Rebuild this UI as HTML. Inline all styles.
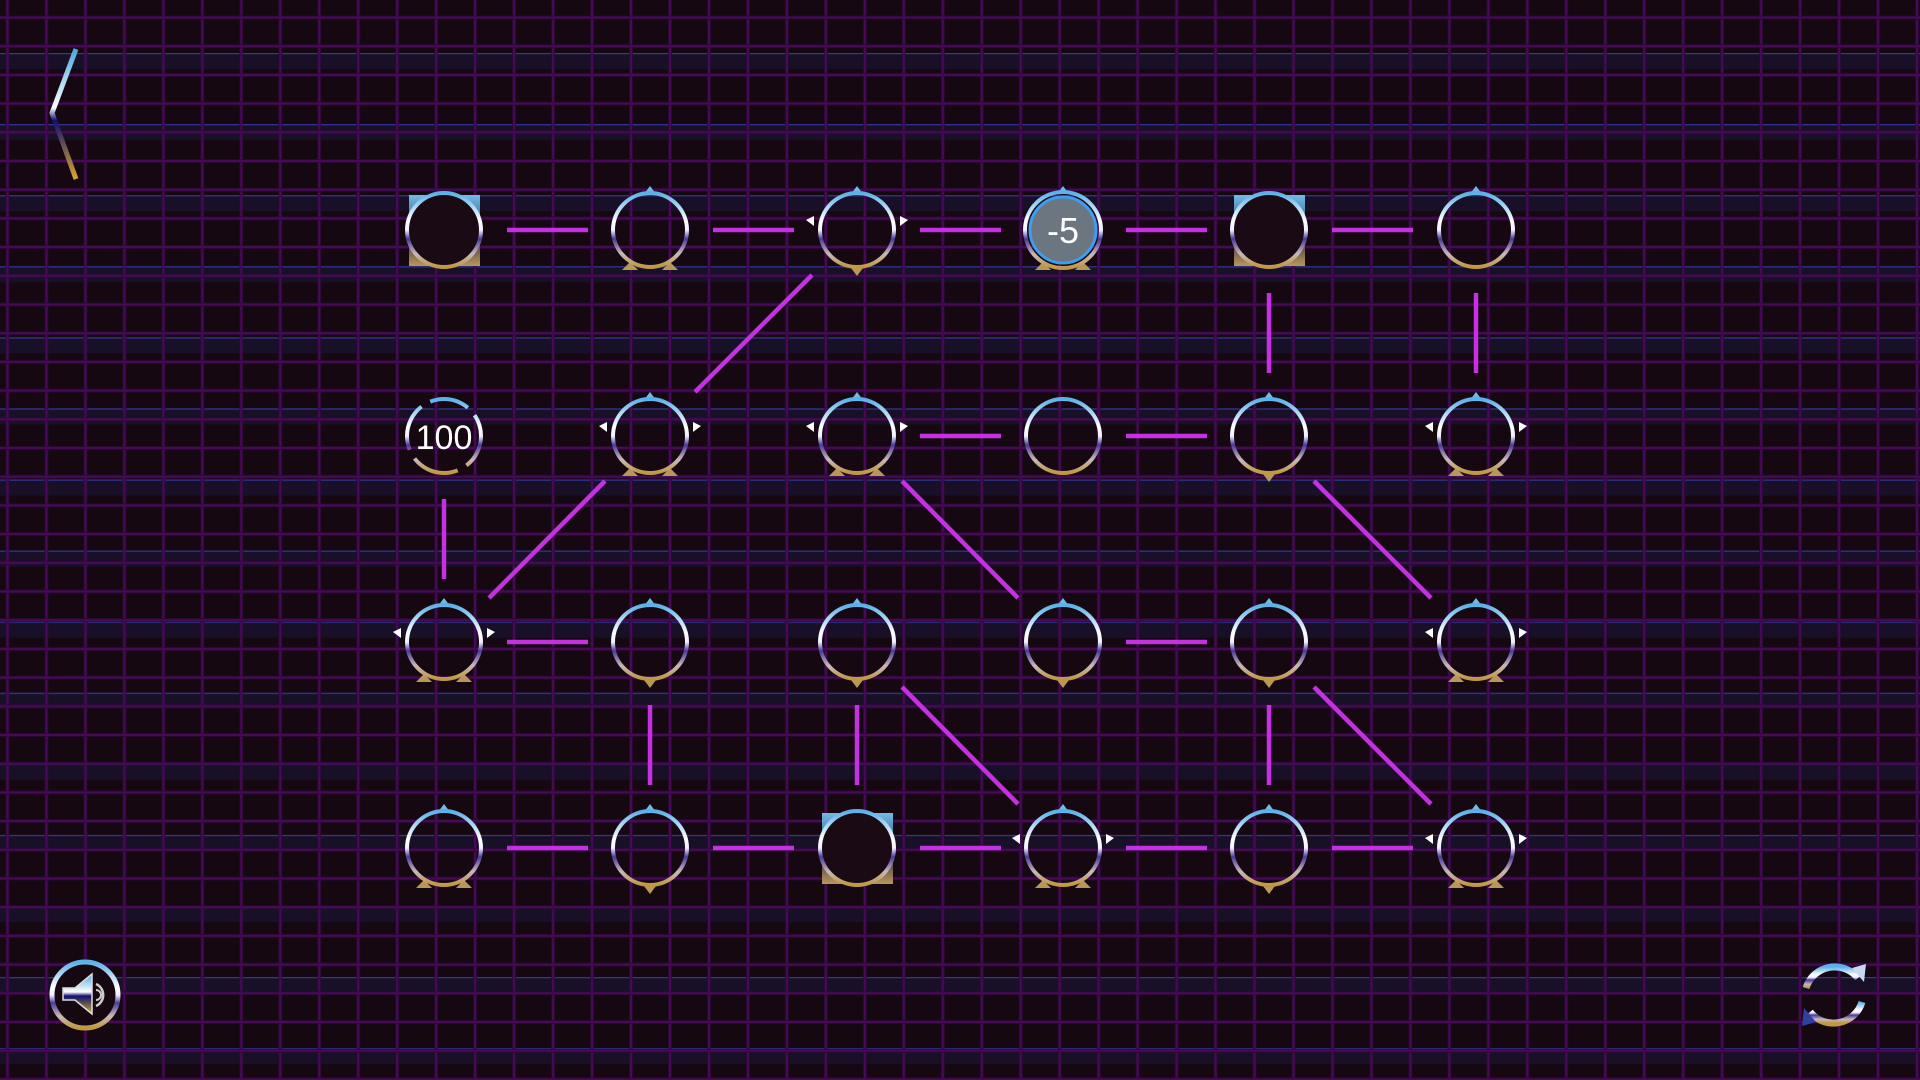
<!DOCTYPE html>
<html><head><meta charset="utf-8"><style>
html,body{margin:0;padding:0;background:#150810;width:1920px;height:1080px;overflow:hidden}
svg{display:block}
text{font-family:"Liberation Sans",sans-serif;fill:#fff}
</style></head><body>
<svg width="1920" height="1080" viewBox="0 0 1920 1080" xmlns="http://www.w3.org/2000/svg">
<defs>
<pattern id="vg" x="5" y="0" width="38.97" height="1080" patternUnits="userSpaceOnUse">
<rect x="0.5" y="0" width="4" height="1080" fill="#2c0838" opacity="0.8"/>
<rect x="1.5" y="0" width="2" height="1080" fill="#470a57"/>
</pattern>
<pattern id="hg" x="0" y="15" width="1920" height="28.7" patternUnits="userSpaceOnUse">
<rect x="0" y="0.5" width="1920" height="4" fill="#2c0838" opacity="0.8"/>
<rect x="0" y="1.5" width="1920" height="2" fill="#470a57"/>
</pattern>
<pattern id="bg" x="0" y="53" width="1920" height="71.08" patternUnits="userSpaceOnUse">
<rect x="0" y="0" width="1920" height="16" fill="#1a1430" opacity="0.7"/>
<rect x="0" y="-1" width="1920" height="2.2" fill="#33389a"/>
</pattern>
<linearGradient id="ring" x1="0" y1="0" x2="0" y2="1">
<stop offset="0" stop-color="#5ab0e8"/>
<stop offset="0.38" stop-color="#ffffff"/>
<stop offset="0.5" stop-color="#f0f0ff"/>
<stop offset="0.62" stop-color="#4a3a9a"/>
<stop offset="0.82" stop-color="#c8b8b8"/>
<stop offset="1" stop-color="#c09840"/>
</linearGradient>
<linearGradient id="sq" x1="0" y1="0" x2="0" y2="1">
<stop offset="0" stop-color="#6fbbe6"/>
<stop offset="0.35" stop-color="#4a6f98"/>
<stop offset="0.6" stop-color="#3a2a48"/>
<stop offset="1" stop-color="#b89858"/>
</linearGradient>
<linearGradient id="arr" x1="0" y1="0" x2="0" y2="1">
<stop offset="0" stop-color="#4aa8e0"/>
<stop offset="0.45" stop-color="#ffffff"/>
<stop offset="0.55" stop-color="#101070"/>
<stop offset="1" stop-color="#d8a830"/>
</linearGradient>
</defs>
<rect width="1920" height="1080" fill="#150810"/>
<rect width="1920" height="1080" fill="url(#bg)"/>
<rect width="1920" height="1080" fill="url(#vg)"/>
<rect width="1920" height="1080" fill="url(#hg)"/>

<polyline points="76,49 52,113 76,179" fill="none" stroke="url(#arr)" stroke-width="5"/>

<g stroke="#c431e0" stroke-width="4.5" fill="none">
<line x1="507" y1="230" x2="588" y2="230"/>
<line x1="713" y1="230" x2="794" y2="230"/>
<line x1="920" y1="230" x2="1001" y2="230"/>
<line x1="1126" y1="230" x2="1207" y2="230"/>
<line x1="1332" y1="230" x2="1413" y2="230"/>
<line x1="1269" y1="293" x2="1269" y2="373"/>
<line x1="1476" y1="293" x2="1476" y2="373"/>
<line x1="812" y1="275" x2="695" y2="392"/>
<line x1="920" y1="436" x2="1001" y2="436"/>
<line x1="1126" y1="436" x2="1207" y2="436"/>
<line x1="444" y1="499" x2="444" y2="579"/>
<line x1="605" y1="481" x2="489" y2="598"/>
<line x1="902" y1="481" x2="1018" y2="598"/>
<line x1="1314" y1="481" x2="1431" y2="598"/>
<line x1="507" y1="642" x2="588" y2="642"/>
<line x1="1126" y1="642" x2="1207" y2="642"/>
<line x1="650" y1="705" x2="650" y2="785"/>
<line x1="857" y1="705" x2="857" y2="785"/>
<line x1="1269" y1="705" x2="1269" y2="785"/>
<line x1="902" y1="687" x2="1018" y2="804"/>
<line x1="1314" y1="687" x2="1431" y2="804"/>
<line x1="507" y1="848" x2="588" y2="848"/>
<line x1="713" y1="848" x2="794" y2="848"/>
<line x1="920" y1="848" x2="1001" y2="848"/>
<line x1="1126" y1="848" x2="1207" y2="848"/>
<line x1="1332" y1="848" x2="1413" y2="848"/>
</g>

<g fill="url(#sq)">
<rect x="409" y="195" width="71" height="71"/>
<rect x="1234" y="195" width="71" height="71"/>
<rect x="822" y="813" width="71" height="71"/>
</g>
<g fill="#1a0a14">
<circle cx="444" cy="230" r="37"/>
<circle cx="1269" cy="230" r="37"/>
<circle cx="857" cy="848" r="37"/>
</g>

<g fill="#6fbbe6">
<path d="M650,186 l-6,8 h12z"/><path d="M857,186 l-6,8 h12z"/><path d="M1063,186 l-6,8 h12z"/><path d="M1476,186 l-6,8 h12z"/>
<path d="M650,392 l-6,8 h12z"/><path d="M857,392 l-6,8 h12z"/><path d="M1269,392 l-6,8 h12z"/><path d="M1476,392 l-6,8 h12z"/>
<path d="M444,598 l-6,8 h12z"/><path d="M650,598 l-6,8 h12z"/><path d="M857,598 l-6,8 h12z"/><path d="M1063,598 l-6,8 h12z"/><path d="M1269,598 l-6,8 h12z"/><path d="M1476,598 l-6,8 h12z"/>
<path d="M444,804 l-6,8 h12z"/><path d="M650,804 l-6,8 h12z"/><path d="M1063,804 l-6,8 h12z"/><path d="M1269,804 l-6,8 h12z"/><path d="M1476,804 l-6,8 h12z"/>
</g>
<g fill="#ffffff">
<path d="M814,216 l-8,4 l8,6z"/><path d="M900,216 l8,4 l-8,6z"/>
<path d="M607,422 l-8,4 l8,6z"/><path d="M693,422 l8,4 l-8,6z"/>
<path d="M814,422 l-8,4 l8,6z"/><path d="M900,422 l8,4 l-8,6z"/>
<path d="M1433,422 l-8,4 l8,6z"/><path d="M1519,422 l8,4 l-8,6z"/>
<path d="M401,628 l-8,4 l8,6z"/><path d="M487,628 l8,4 l-8,6z"/>
<path d="M1433,628 l-8,4 l8,6z"/><path d="M1519,628 l8,4 l-8,6z"/>
<path d="M1020,834 l-8,4 l8,6z"/><path d="M1106,834 l8,4 l-8,6z"/>
<path d="M1433,834 l-8,4 l8,6z"/><path d="M1519,834 l8,4 l-8,6z"/>
</g>
<g fill="#b8985a">
<path d="M630,262 l-8,8 h16z"/><path d="M670,262 l-8,8 h16z"/>
<path d="M857,276 l-6,-8 h12z"/>
<path d="M1043,262 l-8,8 h16z"/><path d="M1083,262 l-8,8 h16z"/>
<path d="M630,468 l-8,8 h16z"/><path d="M670,468 l-8,8 h16z"/>
<path d="M837,468 l-8,8 h16z"/><path d="M877,468 l-8,8 h16z"/>
<path d="M1269,482 l-6,-8 h12z"/>
<path d="M1456,468 l-8,8 h16z"/><path d="M1496,468 l-8,8 h16z"/>
<path d="M424,674 l-8,8 h16z"/><path d="M464,674 l-8,8 h16z"/>
<path d="M650,688 l-6,-8 h12z"/><path d="M857,688 l-6,-8 h12z"/><path d="M1063,688 l-6,-8 h12z"/><path d="M1269,688 l-6,-8 h12z"/>
<path d="M1456,674 l-8,8 h16z"/><path d="M1496,674 l-8,8 h16z"/>
<path d="M424,880 l-8,8 h16z"/><path d="M464,880 l-8,8 h16z"/>
<path d="M650,894 l-6,-8 h12z"/>
<path d="M1043,880 l-8,8 h16z"/><path d="M1083,880 l-8,8 h16z"/>
<path d="M1269,894 l-6,-8 h12z"/>
<path d="M1456,880 l-8,8 h16z"/><path d="M1496,880 l-8,8 h16z"/>
</g>

<g fill="none" stroke="url(#ring)" stroke-width="4">
<circle cx="444" cy="230" r="37"/><circle cx="650" cy="230" r="37"/><circle cx="857" cy="230" r="37"/><circle cx="1269" cy="230" r="37"/><circle cx="1476" cy="230" r="37"/>
<circle cx="650" cy="436" r="37"/><circle cx="857" cy="436" r="37"/><circle cx="1063" cy="436" r="37"/><circle cx="1269" cy="436" r="37"/><circle cx="1476" cy="436" r="37"/>
<circle cx="444" cy="642" r="37"/><circle cx="650" cy="642" r="37"/><circle cx="857" cy="642" r="37"/><circle cx="1063" cy="642" r="37"/><circle cx="1269" cy="642" r="37"/><circle cx="1476" cy="642" r="37"/>
<circle cx="444" cy="848" r="37"/><circle cx="650" cy="848" r="37"/><circle cx="857" cy="848" r="37"/><circle cx="1063" cy="848" r="37"/><circle cx="1269" cy="848" r="37"/><circle cx="1476" cy="848" r="37"/>
<circle cx="1063" cy="230" r="38"/>
<circle cx="444" cy="436" r="37" stroke-dasharray="40 10 48 10 48 10 48 10" stroke-dashoffset="64"/>
</g>
<circle cx="1063" cy="230" r="33" fill="#6b7680" stroke="#3d9ef0" stroke-width="3"/>
<text x="1063" y="243" font-size="36" text-anchor="middle">-5</text>
<text x="444" y="449" font-size="34" text-anchor="middle">100</text>

<circle cx="85" cy="995" r="33" fill="#160810" stroke="url(#ring)" stroke-width="5"/>
<path d="M63,988 h12 l17,-14 v40 l-17,-14 h-12z" fill="url(#arr)" stroke="#ddd" stroke-width="1.5"/>
<path d="M96,984 a12,12 0 0 1 0,22" fill="none" stroke="#ccc" stroke-width="2.5"/>
<path d="M96,990 a5,5 0 0 1 0,10" fill="none" stroke="#ccc" stroke-width="2"/>

<g fill="none" stroke="url(#ring)" stroke-width="7">
<path d="M1806,988 a30,30 0 0 1 52,-10"/>
<path d="M1862,1002 a30,30 0 0 1 -52,10"/>
</g>
<path d="M1852,968 l14,-4 l-2,18z" fill="#c8d8f0"/>
<path d="M1816,1022 l-14,4 l2,-18z" fill="#3040a0"/>
</svg>
</body></html>
